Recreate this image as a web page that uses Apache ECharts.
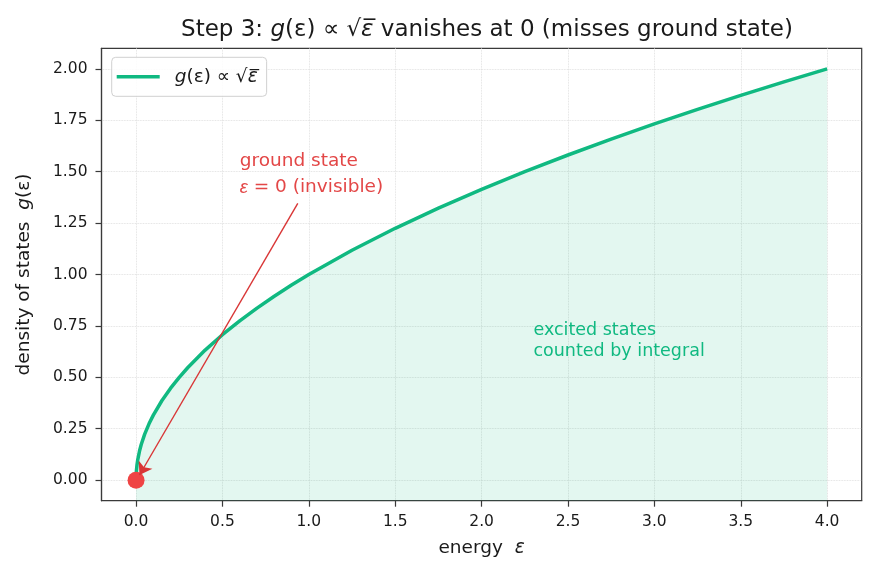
<!DOCTYPE html>
<html>
<head>
<meta charset="utf-8">
<script src="https://cdn.jsdelivr.net/npm/echarts@6/dist/echarts.min.js"></script>
<style>
  html, body { margin: 0; padding: 0; background: #fff; }
  #chart { width: 875px; height: 574px; }
</style>
</head>
<body>
<div id="chart"></div>
<script>
// energy values and density of states
var energy = [0, 0.0005, 0.002, 0.005, 0.01, 0.02, 0.03, 0.05, 0.075, 0.1, 0.15, 0.2, 0.25, 0.3, 0.4, 0.5, 0.6, 0.7, 0.8, 0.9, 1.0,
  1.25, 1.5, 1.75, 2.0, 2.25, 2.5, 2.75, 3.0, 3.25, 3.5, 3.75, 4.0];
var dos = [0, 0.0224, 0.0447, 0.0707, 0.1, 0.1414, 0.1732, 0.2236, 0.2739, 0.3162, 0.3873, 0.4472, 0.5, 0.5477, 0.6325, 0.7071, 0.7746, 0.8367, 0.8944, 0.9487, 1.0,
  1.118, 1.2247, 1.3229, 1.4142, 1.5, 1.5811, 1.6583, 1.7321, 1.8028, 1.8708, 1.9365, 2.0];
var xTicks = [0, 0.5, 1.0, 1.5, 2.0, 2.5, 3.0, 3.5, 4.0];
var yTicks = [0, 0.25, 0.5, 0.75, 1.0, 1.25, 1.5, 1.75, 2.0];
var groundState = [0, 0];
var arrowFrom = [0.936, 1.346];
var arrowTo = [0.02, 0.025];

var green = '#10b981';
var red = '#ef4444';
var font = 'DejaVu Sans';
var ink = '#1a1a1a';

var chart = echarts.init(document.getElementById('chart'));

var curve = energy.map(function (e, i) { return [e, dos[i]]; });

var option = {
  backgroundColor: '#fff',
  animation: false,
  textStyle: { fontFamily: font },
  title: {
    text: 'Step 3: {i|g}(ε) ∝ √{i|ε̅} vanishes at 0 (misses ground state)',
    left: 482,
    textAlign: 'center',
    top: 14,
    textStyle: {
      fontFamily: font, fontSize: 23, fontWeight: 'normal', color: ink,
      rich: { i: { fontFamily: font, fontSize: 23, fontStyle: 'italic', color: ink } }
    }
  },
  grid: {
    left: 101.5, right: 13.3, top: 48.3, bottom: 73.3,
    show: true, borderColor: '#3a3a3a', borderWidth: 1.2
  },
  legend: {
    left: 111.7, top: 57.3,
    padding: [10, 9, 10, 5],
    borderColor: '#d0d0d0', borderWidth: 1, borderRadius: 4,
    backgroundColor: 'rgba(255,255,255,0.85)',
    itemWidth: 43, itemHeight: 3.5,
    data: [{ name: 'g', icon: 'rect' }],
    formatter: function () { return '{i|g}(ε) ∝ √{i|ε̅}'; },
    textStyle: {
      fontFamily: font, fontSize: 18.5, color: ink, padding: [0, 0, 0, 10],
      rich: { i: { fontFamily: font, fontSize: 18.5, fontStyle: 'italic', color: ink } }
    }
  },
  xAxis: {
    type: 'value', min: -0.2, max: 4.2,
    name: 'energy  {i|ε}', nameLocation: 'middle', nameGap: 38,
    nameTextStyle: { fontFamily: font, fontSize: 18.5, color: ink, rich: { i: { fontStyle: 'italic', fontSize: 18.5, color: ink } } },
    axisLine: { show: true, onZero: false, lineStyle: { color: '#3a3a3a', width: 1.2 } },
    axisTick: { show: true, length: 6, lineStyle: { color: '#3a3a3a', width: 1.2 }, customValues: xTicks },
    axisLabel: { customValues: xTicks, fontFamily: font, fontSize: 15.5, color: ink, margin: 13,
      formatter: function (v) { return v.toFixed(1); } },
    splitLine: { show: true, lineStyle: { color: '#d9d9d9', type: 'dotted', width: 0.8 } }
  },
  yAxis: {
    type: 'value', min: -0.1, max: 2.1,
    name: 'density of states  {i|g}(ε)', nameLocation: 'middle', nameGap: 68,
    nameTextStyle: { fontFamily: font, fontSize: 18.5, color: ink, rich: { i: { fontStyle: 'italic', fontSize: 18.5, color: ink } } },
    axisLine: { show: true, onZero: false, lineStyle: { color: '#3a3a3a', width: 1.2 } },
    axisTick: { show: true, length: 6, lineStyle: { color: '#3a3a3a', width: 1.2 }, customValues: yTicks },
    axisLabel: { customValues: yTicks, fontFamily: font, fontSize: 15.5, color: ink, margin: 14,
      formatter: function (v) { return v.toFixed(2); } },
    splitLine: { show: true, lineStyle: { color: '#d9d9d9', type: 'dotted', width: 0.8 } }
  },
  series: [
    {
      name: 'g',
      type: 'line',
      data: curve,
      showSymbol: false,
      color: green,
      lineStyle: { color: green, width: 3.5 },
      areaStyle: { color: 'rgba(16,185,129,0.17)', origin: 'start' },
      z: 3
    },
    {
      name: 'ground',
      type: 'scatter',
      data: [groundState],
      symbolSize: 17,
      itemStyle: { color: red, opacity: 1 },
      z: 5
    },
    {
      name: 'arrow',
      type: 'line',
      data: [],
      silent: true,
      z: 8,
      markLine: {
        silent: true,
        z: 10,
        symbol: ['none', 'arrow'],
        symbolSize: 12,
        label: { show: false },
        emphasis: { disabled: true },
        lineStyle: { color: '#d93636', width: 1.4, type: 'solid', opacity: 1 },
        data: [[{ coord: arrowFrom }, { coord: arrowTo }]]
      }
    }
  ]
};

chart.setOption(option);

var p1 = chart.convertToPixel({ gridIndex: 0 }, [0.6, 1.55]);
var p2 = chart.convertToPixel({ gridIndex: 0 }, [2.3, 0.73]);
chart.setOption({
  graphic: [
    {
      type: 'text', left: p1[0], top: p1[1] - 13, z: 10,
      style: {
        text: 'ground state\n{i|ε} = 0 (invisible)',
        fill: '#e34747', font: '18.5px "DejaVu Sans"', lineHeight: 26,
        rich: { i: { fontStyle: 'italic', fontSize: 18.5, fill: '#e34747', lineHeight: 26 } }
      }
    },
    {
      type: 'text', left: p2[0], top: p2[1] - 10.5, z: 10,
      style: {
        text: 'excited states\ncounted by integral',
        fill: green, font: '17.5px "DejaVu Sans"', lineHeight: 21
      }
    }
  ]
});
</script>
</body>
</html>
